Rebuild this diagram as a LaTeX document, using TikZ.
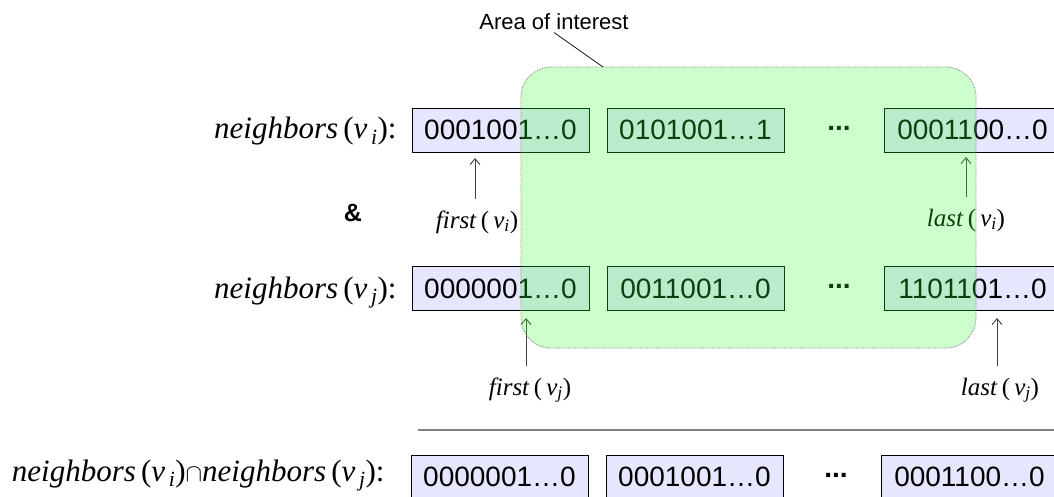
\documentclass[tikz,border=0pt]{standalone}
\usepackage{fontspec}
\setmainfont{Liberation Serif}
\setsansfont{Liberation Sans}
\usetikzlibrary{arrows.meta}
\definecolor{bitfill}{RGB}{230,230,255}
\definecolor{aoigreen}{RGB}{51,255,51}
\newcommand{\nbr}[1]{\textit{neighbors}\,(\textit{v}\textsubscript{\,\textit{#1}})}
\newcommand{\bound}[2]{\textit{#1}\,(\,\textit{v}\textsubscript{\textit{#2}})}
\begin{document}
\begin{tikzpicture}[x=1pt,y=-1pt,>={Straight Barb[length=6pt,width=10pt]},line width=0.9pt,
		bits/.style={draw,fill=bitfill,minimum width=177pt,minimum height=44pt,inner sep=0pt,font=\sffamily\fontsize{28}{30}\selectfont},
		setname/.style={anchor=base east,inner sep=0pt,font=\fontsize{31}{33}\selectfont},
		dots/.style={inner sep=0pt,font=\sffamily\bfseries\fontsize{28}{30}\selectfont},
		endlbl/.style={anchor=base,inner sep=0pt,font=\fontsize{25}{27}\selectfont},
		ptr/.style={->,draw=black!75,line width=0.9pt,shorten <=11pt}]
	\useasboundingbox (0,0) rectangle (1054,497);
	% first row
	\node[setname] (ni) at (397,139) {\nbr{i}:};
	\node[bits] (a1) at (500.5,130) {0001001…0};
	\node[bits] (a2) at (695.5,130) {0101001…1};
	\node[dots] (ad) at (839,128) {...};
	\node[bits] (a3) at (972.5,130) {0001100…0};
	\node[font=\sffamily\bfseries\fontsize{25}{27}\selectfont] (and) at (353,213) {\&};
	\node[endlbl] (fi) at (477,228) {\bound{first}{i}};
	\node[endlbl] (li) at (966,226) {\bound{last}{i}};
	\coordinate (fitip) at (475,158);
	\coordinate (litip) at (966,157);
	\draw[ptr] (fi.north -| fitip) -- (fitip);
	\draw[ptr] (li.north -| litip) -- (litip);
	% second row
	\node[setname] (nj) at (397,298) {\nbr{j}:};
	\node[bits] (b1) at (500.5,288.5) {0000001…0};
	\node[bits] (b2) at (695.5,288.5) {0011001…0};
	\node[dots] (bd) at (839,286.5) {...};
	\node[bits] (b3) at (972.5,288.5) {1101101…0};
	\node[endlbl] (fj) at (530,395) {\bound{first}{j}};
	\node[endlbl] (lj) at (1000,395) {\bound{last}{j}};
	\coordinate (fjtip) at (526,318);
	\coordinate (ljtip) at (997,318);
	\draw[ptr] (fj.north -| fjtip) -- (fjtip);
	\draw[ptr] (lj.north -| ljtip) -- (ljtip);
	% area of interest
	\node[draw=black!50,densely dotted,line width=0.8pt,fill=aoigreen,fill opacity=0.25,rounded corners=30pt,minimum width=455pt,minimum height=281pt] (area) at (748.5,207.5) {};
	\node[font=\sffamily\fontsize{22}{24}\selectfont,inner sep=2pt] (arealbl) at (554,22) {Area of interest};
	\coordinate (pin) at (603,67);
	\draw[line width=0.7pt] (arealbl.south) -- (pin);
	% result
	\draw[black!50,line width=1.5pt] (418,430) -- (1054,430);
	\node[setname] (nij) at (385,481) {\nbr{i}$\cap$\nbr{j}:};
	\node[bits] (c1) at (499.5,477) {0000001…0};
	\node[bits] (c2) at (694.5,477) {0001001…0};
	\node[dots] (cd) at (836,475) {...};
	\node[bits] (c3) at (969.5,477) {0001100…0};
\end{tikzpicture}
\end{document}
